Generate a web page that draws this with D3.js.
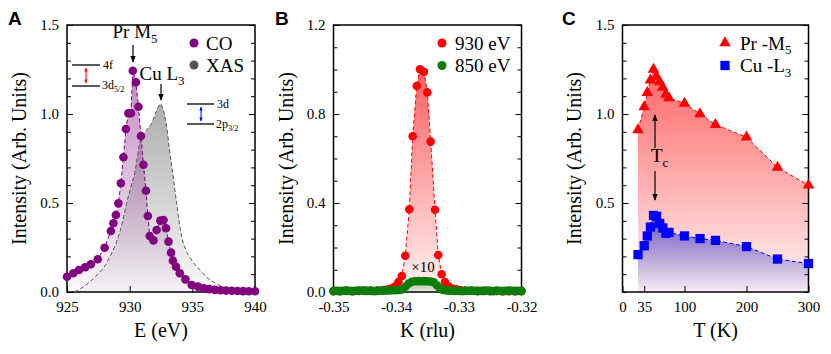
<!DOCTYPE html>
<html>
<head>
<meta charset="utf-8">
<script src="https://cdn.jsdelivr.net/npm/d3@7"></script>
<style>
  body { margin: 0; background: #fff; }
</style>
</head>
<body>
<div class="chart"></div>
<script>
// ---- panel A : energy scans
const coE = [925.0,925.5,925.95,926.45,926.9,927.45,928.0,928.5,928.7,928.9,929.1,929.3,929.5,929.7,929.9,930.1,930.25,930.5,930.7,930.9,931.1,931.3,931.45,931.6,931.9,932.15,932.45,932.7,932.9,933.1,933.3,933.45,933.7,934.0,934.45,934.95,935.45,935.9,936.35,936.8,937.25,937.7,938.15,938.6,939.05,939.5,940.0]
const coI = [0.086,0.105,0.124,0.139,0.156,0.184,0.249,0.343,0.386,0.433,0.498,0.611,0.757,0.916,1.004,1.004,1.243,1.178,1.041,0.876,0.715,0.569,0.427,0.315,0.29,0.348,0.401,0.404,0.358,0.283,0.221,0.176,0.142,0.105,0.071,0.039,0.030,0.021,0.016,0.012,0.010,0.008,0.007,0.006,0.005,0.004,0.004]
const xasE = [925.6,926.1,926.6,927.1,927.6,928.0,928.4,928.8,929.1,929.45,929.75,930.1,930.45,930.6,930.75,931.0,931.3,931.75,932.1,932.45,932.7,932.95,933.15,933.4,933.75,934.15,934.5,934.85,935.25,935.6,936.1,936.7,937.2,937.75,938.5,939.2,940.0]
const xasI = [0.0,0.02,0.045,0.075,0.11,0.145,0.195,0.255,0.311,0.40,0.498,0.59,0.685,0.75,0.82,0.875,0.905,0.948,1.01,1.056,1.02,0.93,0.816,0.685,0.498,0.311,0.235,0.19,0.15,0.124,0.085,0.056,0.036,0.021,0.011,0.006,0.004]
const ticksE = [925,930,935,940]
const ticksA = [0,0.5,1.0,1.5]

// ---- panel B : K scans
const k930 = [-0.3500,-0.3490,-0.3480,-0.3470,-0.3460,-0.3450,-0.3440,-0.3430,-0.3420,-0.3413,-0.3408,-0.3402,-0.33965,-0.3391,-0.33855,-0.3379,-0.33736,-0.33672,-0.3362,-0.33556,-0.33503,-0.33449,-0.3338,-0.33328,-0.33274,-0.3322,-0.3316,-0.3310,-0.3304,-0.3298,-0.3290,-0.3280,-0.3270,-0.3260,-0.3250,-0.3240,-0.3230,-0.3220,-0.3210,-0.3200]
const i930 = [0.004,0.004,0.005,0.004,0.005,0.005,0.006,0.007,0.009,0.012,0.016,0.024,0.045,0.072,0.163,0.372,0.70,0.926,1.001,0.99,0.897,0.676,0.37,0.166,0.08,0.045,0.025,0.016,0.012,0.009,0.007,0.006,0.005,0.005,0.004,0.005,0.004,0.004,0.004,0.004]
const k850 = [-0.3500,-0.3495,-0.3490,-0.3485,-0.3480,-0.3475,-0.3470,-0.3465,-0.3460,-0.3455,-0.3450,-0.3445,-0.3440,-0.3435,-0.3430,-0.3425,-0.3420,-0.3415,-0.3410,-0.3405,-0.3400,-0.3395,-0.3390,-0.3385,-0.3380,-0.3375,-0.3370,-0.3365,-0.3360,-0.3355,-0.3350,-0.3345,-0.3340,-0.3335,-0.3330,-0.3325,-0.3320,-0.3315,-0.3310,-0.3305,-0.3300,-0.3295,-0.3290,-0.3285,-0.3280,-0.3275,-0.3270,-0.3265,-0.3260,-0.3255,-0.3250,-0.3245,-0.3240,-0.3235,-0.3230,-0.3225,-0.3220,-0.3215,-0.3210,-0.3205,-0.3200]
const i850 = [0.004,0.005,0.004,0.005,0.006,0.005,0.004,0.005,0.006,0.007,0.006,0.005,0.005,0.004,0.005,0.006,0.006,0.007,0.007,0.008,0.008,0.009,0.012,0.025,0.038,0.046,0.048,0.049,0.048,0.049,0.048,0.047,0.044,0.030,0.016,0.009,0.007,0.006,0.006,0.005,0.005,0.004,0.005,0.005,0.006,0.005,0.004,0.005,0.005,0.006,0.005,0.004,0.005,0.005,0.004,0.005,0.006,0.005,0.004,0.005,0.004]
const ticksK = [-0.35,-0.34,-0.33,-0.32]
const ticksB = [0,0.4,0.8,1.2]

// ---- panel C : temperature dependence
const temps = [25,35,40,45,50,55,60,65,70,75,100,125,150,200,250,300]
const prM5 = [0.91,1.04,1.12,1.19,1.25,1.21,1.18,1.15,1.11,1.09,1.06,1.00,0.94,0.87,0.70,0.60]
const cuL3 = [0.21,0.26,0.315,0.365,0.43,0.425,0.385,0.36,0.33,0.335,0.315,0.30,0.29,0.255,0.185,0.16]
const ticksT = [0,35,100,200,300]
const ticksC = [0.5,1.0,1.5]

const serif = '"Liberation Serif", "DejaVu Serif", serif'
const svg = d3.select('.chart').append('svg')
  .attr('width', 831).attr('height', 354)
  .attr('font-family', serif)
const defs = svg.append('defs')

function vgrad(id, color, top, bottom) {
  const g = defs.append('linearGradient').attr('id', id)
    .attr('x1', 0).attr('x2', 0).attr('y1', 0).attr('y2', 1)
  g.append('stop').attr('offset', 0).attr('stop-color', color).attr('stop-opacity', top)
  g.append('stop').attr('offset', 1).attr('stop-color', color).attr('stop-opacity', bottom)
}
vgrad('gCO', '#8e2a8e', 0.55, 0.03)
vgrad('gXAS', '#6a6a6a', 0.55, 0.04)
vgrad('g930', '#ff2020', 0.72, 0.05)
vgrad('g850', '#2a8a2a', 0.45, 0.1)
vgrad('gPr', '#ff2a2a', 0.72, 0.04)
vgrad('gCu', '#3030d0', 0.7, 0.04)

function head(id, color, sz) {
  defs.append('marker').attr('id', id)
    .attr('viewBox', '0 0 10 10').attr('refX', 9).attr('refY', 5)
    .attr('markerWidth', sz).attr('markerHeight', sz)
    .attr('markerUnits', 'userSpaceOnUse')
    .attr('orient', 'auto-start-reverse')
    .append('path').attr('d', 'M0,1 L10,5 L0,9 Z').attr('fill', color)
}
head('hBlack', '#000', 7)
head('hRed', '#ff0000', 4)
head('hBlue', '#0000ff', 4)

function axes(x, y, o) {
  const [l, r] = x.range(), [b, t] = y.range()
  const g = svg.append('g')
  const font = s => s.attr('font-family', serif).attr('font-size', 15)
  g.append('g').attr('transform', `translate(${l},0)`)
    .call(d3.axisLeft(y).tickValues(o.yMinor).tickSize(-4).tickFormat(''))
  g.append('g').attr('transform', `translate(${r},0)`)
    .call(d3.axisRight(y).tickValues(o.yMinor).tickSize(-4).tickFormat(''))
  g.append('g').attr('transform', `translate(${l},0)`)
    .call(d3.axisLeft(y).tickValues(o.yTicks).tickSize(-6).tickPadding(8).tickFormat(d3.format('.1f')))
    .call(font)
  g.append('g').attr('transform', `translate(${r},0)`)
    .call(d3.axisRight(y).tickValues(o.yTicks).tickSize(-6).tickFormat(''))
  g.append('g').attr('transform', `translate(0,${b})`)
    .call(d3.axisBottom(x).tickValues(o.xTicks).tickSize(-6).tickPadding(9).tickFormat(o.xFmt))
    .call(font)
  g.selectAll('.domain').remove()
  g.append('rect').attr('x', l).attr('y', t).attr('width', r - l).attr('height', b - t)
    .attr('fill', 'none').attr('stroke', '#000').attr('stroke-width', 1.5)
  svg.append('text').attr('x', (l + r) / 2).attr('y', 337)
    .attr('text-anchor', 'middle').attr('font-size', 20).text(o.xTitle)
  svg.append('text').attr('transform', `translate(${o.yTitleX},${(t + b) / 2}) rotate(-90)`)
    .attr('text-anchor', 'middle').attr('dy', '0.35em').attr('font-size', 20)
    .text('Intensity (Arb. Units)')
  svg.append('text').attr('x', o.letterX).attr('y', 25)
    .attr('font-family', '"Liberation Sans", Arial, sans-serif').attr('font-weight', 'bold')
    .attr('font-size', 19).text(o.letter)
}

function subText(x, y, main, sub, size, anchor) {
  const t = svg.append('text').attr('x', x).attr('y', y)
    .attr('font-size', size).attr('text-anchor', anchor || 'start')
  t.append('tspan').text(main)
  t.append('tspan').attr('font-size', size * 0.68).attr('dy', size * 0.25).text(sub)
  return t
}

function arrow(x, y1, y2, id, w) {
  svg.append('line').attr('x1', x).attr('x2', x).attr('y1', y1).attr('y2', y2)
    .attr('stroke', id === 'hBlack' ? '#000' : id === 'hRed' ? '#ff0000' : '#0000ff')
    .attr('stroke-width', w || 1.2).attr('marker-end', `url(#${id})`)
}

const minor = (a, b) => d3.range(Math.round(a * 10), Math.round(b * 10) + 1).map(v => v / 10)

// ================= panel A
const xA = d3.scaleLinear().domain([925, 940]).range([67, 255])
const yA = d3.scaleLinear().domain([0, 1.5]).range([292, 25])
const co = coE.map((e, i) => [e, coI[i]])
const xas = xasE.map((e, i) => [e, xasI[i]])
const areaA = d3.area().x(d => xA(d[0])).y0(yA(0)).y1(d => yA(d[1]))
const lineA = d3.line().x(d => xA(d[0])).y(d => yA(d[1]))

svg.append('path').datum(xas).attr('d', areaA.curve(d3.curveMonotoneX)).attr('fill', 'url(#gXAS)')
svg.append('path').datum(co).attr('d', areaA.curve(d3.curveLinear)).attr('fill', 'url(#gCO)')
axes(xA, yA, { yMinor: minor(0, 1.5), yTicks: ticksA, xTicks: ticksE, xFmt: d3.format('d'),
  xTitle: 'E (eV)', yTitleX: 19, letter: 'A', letterX: 8 })
svg.append('path').datum(xas).attr('d', lineA.curve(d3.curveMonotoneX))
  .attr('fill', 'none').attr('stroke', '#555').attr('stroke-width', 1).attr('stroke-dasharray', '4,2.5')
svg.append('path').datum(co).attr('d', lineA.curve(d3.curveLinear))
  .attr('fill', 'none').attr('stroke', '#800080').attr('stroke-width', 1).attr('stroke-dasharray', '4,2.5')
svg.append('g').selectAll('circle').data(co).enter().append('circle')
  .attr('cx', d => xA(d[0])).attr('cy', d => yA(d[1])).attr('r', 4.3).attr('fill', '#800080')

subText(135, 38, 'Pr M', '5', 19, 'middle')
arrow(133, 45, 62, 'hBlack')
subText(162, 80, 'Cu L', '3', 19, 'middle')
arrow(161, 84, 100, 'hBlack')
// energy level sketches
svg.append('line').attr('x1', 72).attr('x2', 100).attr('y1', 65).attr('y2', 65).attr('stroke', '#000').attr('stroke-width', 1.3)
svg.append('line').attr('x1', 72).attr('x2', 100).attr('y1', 86).attr('y2', 86).attr('stroke', '#000').attr('stroke-width', 1.3)
svg.append('line').attr('x1', 86).attr('x2', 86).attr('y1', 68).attr('y2', 83).attr('stroke', '#ff0000')
  .attr('marker-start', 'url(#hRed)').attr('marker-end', 'url(#hRed)')
svg.append('text').attr('x', 103).attr('y', 69).attr('font-size', 12).text('4f')
subText(102, 89, '3d', '5/2', 12)
svg.append('line').attr('x1', 187).attr('x2', 214).attr('y1', 104).attr('y2', 104).attr('stroke', '#000').attr('stroke-width', 1.3)
svg.append('line').attr('x1', 187).attr('x2', 214).attr('y1', 124).attr('y2', 124).attr('stroke', '#000').attr('stroke-width', 1.3)
svg.append('line').attr('x1', 201).attr('x2', 201).attr('y1', 107).attr('y2', 121).attr('stroke', '#0000ff')
  .attr('marker-start', 'url(#hBlue)').attr('marker-end', 'url(#hBlue)')
svg.append('text').attr('x', 217).attr('y', 108).attr('font-size', 12).text('3d')
subText(216, 128, '2p', '3/2', 12)
// legend A
svg.append('circle').attr('cx', 194).attr('cy', 43).attr('r', 4.5).attr('fill', '#800080')
svg.append('text').attr('x', 206).attr('y', 49.5).attr('font-size', 19).text('CO')
svg.append('circle').attr('cx', 194).attr('cy', 65).attr('r', 4.5).attr('fill', '#555')
svg.append('text').attr('x', 206).attr('y', 72).attr('font-size', 19).text('XAS')

// ================= panel B
const xB = d3.scaleLinear().domain([-0.35, -0.32]).range([333.5, 521.5])
const yB = d3.scaleLinear().domain([0, 1.2]).range([292, 25])
const r930 = k930.map((k, i) => [k, i930[i]])
const g850 = k850.map((k, i) => [k, i850[i]])
const areaB = d3.area().x(d => xB(d[0])).y0(yB(0)).y1(d => yB(d[1]))
const lineB = d3.line().x(d => xB(d[0])).y(d => yB(d[1]))

svg.append('path').datum(r930).attr('d', areaB).attr('fill', 'url(#g930)')
svg.append('path').datum(g850.filter(d => d[0] > -0.3405 && d[0] < -0.3315)).attr('d', areaB).attr('fill', 'url(#g850)')
axes(xB, yB, { yMinor: minor(0, 1.2), yTicks: ticksB, xTicks: ticksK, xFmt: d => d.toFixed(2),
  xTitle: 'K (rlu)', yTitleX: 286, letter: 'B', letterX: 275 })
svg.append('path').datum(r930).attr('d', lineB)
  .attr('fill', 'none').attr('stroke', '#ff0000').attr('stroke-width', 1).attr('stroke-dasharray', '4,2.5')
svg.append('g').selectAll('circle').data(r930).enter().append('circle')
  .attr('cx', d => xB(d[0])).attr('cy', d => yB(d[1])).attr('r', 4.3).attr('fill', '#ff0000')
svg.append('path').datum(g850).attr('d', lineB)
  .attr('fill', 'none').attr('stroke', '#0a7d0a').attr('stroke-width', 1)
svg.append('g').selectAll('circle').data(g850).enter().append('circle')
  .attr('cx', d => xB(d[0])).attr('cy', d => yB(d[1])).attr('r', 4.3).attr('fill', '#0a7d0a')
svg.append('text').attr('x', 423).attr('y', 272).attr('text-anchor', 'middle').attr('font-size', 15).text('×10')
svg.append('circle').attr('cx', 442).attr('cy', 43).attr('r', 4.5).attr('fill', '#ff0000')
svg.append('text').attr('x', 455).attr('y', 49.5).attr('font-size', 19).text('930 eV')
svg.append('circle').attr('cx', 442).attr('cy', 65.5).attr('r', 4.5).attr('fill', '#0a7d0a')
svg.append('text').attr('x', 455).attr('y', 72).attr('font-size', 19).text('850 eV')

// ================= panel C
const xC = d3.scaleLinear().domain([0, 300]).range([622.5, 808.5])
const yC = d3.scaleLinear().domain([0, 1.5]).range([292, 25])
const pr = temps.map((t, i) => [t, prM5[i]])
const cu = temps.map((t, i) => [t, cuL3[i]])
const areaC = d3.area().x(d => xC(d[0])).y0(yC(0)).y1(d => yC(d[1]))
const lineC = d3.line().x(d => xC(d[0])).y(d => yC(d[1]))

svg.append('path').datum(pr).attr('d', areaC).attr('fill', 'url(#gPr)')
svg.append('path').datum(cu).attr('d', areaC).attr('fill', 'url(#gCu)')
axes(xC, yC, { yMinor: minor(0, 1.5), yTicks: ticksC, xTicks: ticksT, xFmt: d3.format('d'),
  xTitle: 'T (K)', yTitleX: 574, letter: 'C', letterX: 562 })
svg.append('path').datum(pr).attr('d', lineC)
  .attr('fill', 'none').attr('stroke', '#ff0000').attr('stroke-width', 1).attr('stroke-dasharray', '4,2.5')
svg.append('path').datum(cu).attr('d', lineC)
  .attr('fill', 'none').attr('stroke', '#0000ff').attr('stroke-width', 1).attr('stroke-dasharray', '4,2.5')
const tri = d3.symbol(d3.symbolTriangle, 58)
const sq = d3.symbol(d3.symbolSquare, 86)
svg.append('g').selectAll('path').data(pr).enter().append('path')
  .attr('d', tri).attr('transform', d => `translate(${xC(d[0])},${yC(d[1])})`).attr('fill', '#ff0000')
svg.append('g').selectAll('path').data(cu).enter().append('path')
  .attr('d', sq).attr('transform', d => `translate(${xC(d[0])},${yC(d[1])})`).attr('fill', '#0000ff')
subText(651, 162, 'T', 'c', 19)
arrow(655, 148, 115, 'hBlack')
arrow(655, 171, 200, 'hBlack')
svg.append('path').attr('d', tri).attr('transform', 'translate(725,43)').attr('fill', '#ff0000')
svg.append('text').attr('x', 740).attr('y', 49.5).attr('font-size', 19).text('Pr -M').append('tspan')
  .attr('font-size', 13).attr('dy', 4.5).text('5')
svg.append('path').attr('d', sq).attr('transform', 'translate(725,65.5)').attr('fill', '#0000ff')
svg.append('text').attr('x', 740).attr('y', 72).attr('font-size', 19).text('Cu -L').append('tspan')
  .attr('font-size', 13).attr('dy', 4.5).text('3')
</script>
</body>
</html>
